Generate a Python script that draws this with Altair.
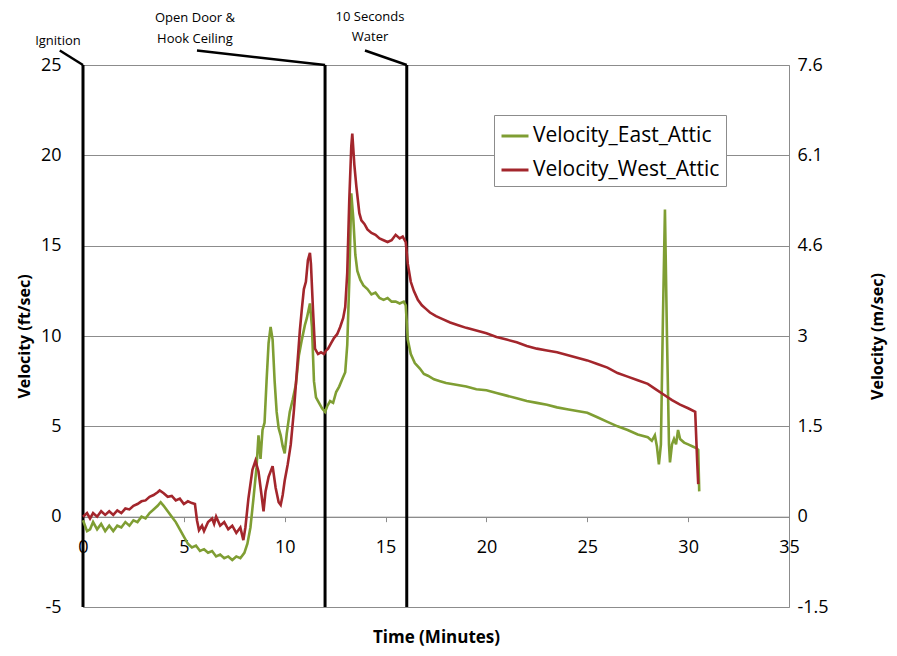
import altair as alt
import pandas as pd

# ---------------- data ----------------
time_east = [0, 0.2, 0.35, 0.5, 0.7, 0.9, 1.1, 1.3, 1.5, 1.7, 1.9, 2.1, 2.3, 2.5, 2.7, 2.9,
             3.1, 3.3, 3.5, 3.7, 3.85, 4.0, 4.2, 4.4, 4.6, 4.8, 5.0, 5.2, 5.4, 5.6, 5.8, 6.0,
             6.2, 6.4, 6.6, 6.8, 7.0, 7.2, 7.4, 7.6, 7.8, 8.0, 8.15, 8.3, 8.45, 8.6, 8.7, 8.8,
             8.9, 9.0, 9.1, 9.2, 9.3, 9.4, 9.5, 9.6, 9.7, 9.8, 9.9, 10.0, 10.1, 10.25, 10.4,
             10.55, 10.7, 10.85, 11.0, 11.1, 11.25, 11.35, 11.45, 11.55, 11.7, 11.85, 12.0,
             12.1, 12.25, 12.4, 12.55, 12.7, 12.85, 13.0, 13.1, 13.2, 13.3, 13.4, 13.5, 13.6,
             13.75, 13.9, 14.1, 14.3, 14.5, 14.7, 14.9, 15.1, 15.3, 15.5, 15.7, 15.9, 16.0,
             16.1, 16.25, 16.45, 16.7, 16.9, 17.1, 17.4, 17.7, 18.0, 18.5, 19.0, 19.5, 20.0,
             20.5, 21.0, 21.5, 22.0, 22.5, 23.0, 23.5, 24.0, 24.5, 25.0, 25.5, 26.0, 26.5,
             27.0, 27.5, 28.0, 28.2, 28.35, 28.45, 28.55, 28.65, 28.75, 28.85, 28.95, 29.05,
             29.1, 29.2, 29.3, 29.4, 29.5, 29.6, 29.8, 30.0, 30.2, 30.4, 30.5, 30.55]
vel_east = [-0.2, -0.8, -0.7, -0.3, -0.7, -0.4, -0.8, -0.5, -0.8, -0.5, -0.6, -0.3, -0.5, -0.2,
            -0.3, 0.0, -0.1, 0.2, 0.4, 0.6, 0.8, 0.6, 0.3, 0.0, -0.3, -0.7, -1.1, -1.5, -1.7,
            -1.6, -1.9, -1.8, -2.0, -1.9, -2.2, -2.1, -2.3, -2.2, -2.4, -2.2, -2.3, -2.0, -1.5,
            -0.6, 1.0, 2.7, 4.5, 3.2, 4.8, 5.2, 7.5, 9.6, 10.5, 9.8, 7.5, 5.8, 4.9, 4.5, 3.9,
            3.5, 4.6, 5.8, 6.5, 7.3, 8.9, 9.8, 10.6, 11.0, 11.8, 10.5, 7.5, 6.6, 6.3, 6.0, 5.8,
            6.1, 6.4, 6.3, 6.9, 7.2, 7.6, 8.0, 9.5, 13.0, 17.9, 16.5, 14.5, 13.6, 13.1, 12.8,
            12.6, 12.3, 12.4, 12.1, 12.0, 12.1, 11.9, 11.9, 11.8, 11.9, 11.7, 9.8, 9.0, 8.5,
            8.2, 7.9, 7.8, 7.6, 7.5, 7.4, 7.3, 7.2, 7.05, 7.0, 6.85, 6.7, 6.55, 6.4, 6.3, 6.2,
            6.05, 5.95, 5.85, 5.75, 5.5, 5.25, 5.0, 4.8, 4.55, 4.4, 4.2, 4.5, 3.9, 2.9, 4.0,
            11.0, 17.0, 10.0, 4.0, 3.0, 4.0, 4.3, 4.0, 4.8, 4.3, 4.1, 4.0, 3.9, 3.8, 3.7, 1.4]

time_west = [0, 0.2, 0.35, 0.5, 0.7, 0.9, 1.1, 1.3, 1.5, 1.7, 1.9, 2.1, 2.3, 2.5, 2.7, 2.9,
             3.1, 3.3, 3.5, 3.7, 3.8, 4.0, 4.2, 4.4, 4.6, 4.8, 5.0, 5.2, 5.4, 5.55, 5.65, 5.75,
             5.9, 6.0, 6.2, 6.4, 6.5, 6.6, 6.8, 7.0, 7.2, 7.4, 7.6, 7.8, 7.95, 8.05, 8.2, 8.4,
             8.55, 8.7, 8.85, 8.95, 9.05, 9.2, 9.4, 9.55, 9.7, 9.8, 9.9, 10.0, 10.15, 10.3,
             10.45, 10.6, 10.75, 10.85, 10.95, 11.05, 11.15, 11.25, 11.3, 11.4, 11.5, 11.65,
             11.8, 11.95, 12.05, 12.15, 12.3, 12.45, 12.6, 12.75, 12.9, 13.0, 13.1, 13.2, 13.3,
             13.35, 13.45, 13.55, 13.7, 13.8, 13.95, 14.1, 14.3, 14.5, 14.7, 14.9, 15.1, 15.3,
             15.5, 15.7, 15.85, 16.0, 16.1, 16.25, 16.4, 16.6, 16.8, 17.0, 17.2, 17.5, 17.8,
             18.2, 18.6, 19.0, 19.5, 20.0, 20.5, 21.0, 21.5, 22.0, 22.5, 23.0, 23.5, 24.0, 24.5,
             25.0, 25.5, 26.0, 26.5, 27.0, 27.5, 28.0, 28.4, 28.8, 29.2, 29.6, 30.0, 30.35,
             30.45, 30.5]
vel_west = [0.0, 0.2, -0.1, 0.2, 0.0, 0.3, 0.1, 0.3, 0.1, 0.35, 0.2, 0.45, 0.4, 0.6, 0.7,
            0.85, 0.9, 1.1, 1.2, 1.35, 1.45, 1.3, 1.1, 1.15, 0.9, 1.0, 0.7, 0.85, 0.75, 0.7,
            -0.2, -0.75, -0.5, -0.8, -0.3, -0.1, -0.4, 0.0, -0.5, -0.3, -0.7, -0.5, -0.9, -0.6,
            -1.3, -0.6, 1.0, 2.6, 3.1, 2.5, 1.2, 0.3, 1.4, 2.2, 2.8, 1.6, 0.8, 0.65, 1.2, 2.0,
            2.9, 4.0, 5.8, 8.0, 10.3, 11.5, 12.6, 13.0, 14.2, 14.6, 14.0, 11.5, 9.3, 9.0, 9.1,
            9.0, 9.2, 9.3, 9.6, 9.9, 10.1, 10.5, 11.0, 11.6, 13.5, 17.5, 20.5, 21.2, 19.5,
            18.3, 16.8, 16.4, 16.2, 15.9, 15.7, 15.6, 15.4, 15.3, 15.2, 15.3, 15.6, 15.4, 15.5,
            15.2, 14.0, 13.0, 12.5, 12.0, 11.7, 11.5, 11.3, 11.1, 10.95, 10.75, 10.6, 10.45,
            10.3, 10.15, 9.95, 9.8, 9.65, 9.45, 9.3, 9.2, 9.1, 8.95, 8.8, 8.65, 8.45, 8.25,
            7.95, 7.75, 7.55, 7.35, 7.05, 6.75, 6.45, 6.2, 6.0, 5.8, 3.0, 1.8]

series_names = ["Velocity_East_Attic", "Velocity_West_Attic"]
series_colors = ["#7F9E33", "#A3262C"]

event_times = [0, 12, 16.05]
callout_times = [-1.15, 5.65, 13.98]
callout_level = 25.8
label_lines = ["Ignition", "Open Door &", "Hook Ceiling", "10 Seconds", "Water"]
label_times = [-1.24, 5.55, 5.55, 14.23, 14.23]
label_levels = [26.35, 27.62, 26.46, 27.67, 26.57]

x_ticks = [0, 5, 10, 15, 20, 25, 30, 35]
ft_ticks = [-5, 0, 5, 10, 15, 20, 25]
ms_labels = ["-1.5", "0", "1.5", "3", "4.6", "6.1", "7.6"]

# ---------------- build tables ----------------
GRID = "#8c8c8c"
FONT = "Open Sans"

lines_df = pd.concat([
    pd.DataFrame({"series": series_names[0], "time": time_east, "velocity": vel_east, "order": range(len(time_east))}),
    pd.DataFrame({"series": series_names[1], "time": time_west, "velocity": vel_west, "order": range(len(time_west))}),
])
events_df = pd.DataFrame({"t": event_times, "lo": min(ft_ticks), "hi": max(ft_ticks),
                          "ct": callout_times, "cl": callout_level})
labels_df = pd.DataFrame({"text": label_lines, "t": label_times, "v": label_levels})

x_scale = alt.Scale(domain=[min(x_ticks), max(x_ticks)], nice=False, zero=False)
y_scale = alt.Scale(domain=[min(ft_ticks), max(ft_ticks)], nice=False, zero=False)

x_axis = alt.Axis(values=x_ticks, title="Time (Minutes)", offset=-90.33, grid=False,
                  domainColor=GRID, tickColor=GRID, tickSize=5, labelPadding=17,
                  labelFlush=False, labelFontSize=18, titleFontSize=17,
                  titleFontWeight="bold", titlePadding=73,
                  labelExpr="'' + datum.value")
y_axis = alt.Axis(values=ft_ticks, title="Velocity (ft/sec)", grid=True, gridColor=GRID,
                  gridOpacity=1, domain=False, ticks=False, labelPadding=22,
                  labelFontSize=18, titleFontSize=16, titleFontWeight="bold",
                  titlePadding=8, labelExpr="'' + datum.value")

lines = alt.Chart(lines_df).mark_line(strokeWidth=2.6, clip=False).encode(
    x=alt.X("time:Q", scale=x_scale, axis=x_axis),
    y=alt.Y("velocity:Q", scale=y_scale, axis=y_axis),
    color=alt.Color("series:N", scale=alt.Scale(domain=series_names, range=series_colors),
                    legend=alt.Legend(title=None, orient="none", legendX=411, legendY=50,
                                      symbolType="stroke", symbolSize=729, symbolStrokeWidth=3,
                                      labelFontSize=21, labelFont=FONT, padding=6, rowPadding=9,
                                      strokeColor=GRID, fillColor="white", labelOffset=3,
                                      labelLimit=400)),
    order="order:Q",
)

vrules = alt.Chart(events_df).mark_rule(color="black", strokeWidth=3, clip=False).encode(
    x=alt.X("t:Q", scale=x_scale, axis=x_axis),
    y=alt.Y("lo:Q", scale=y_scale, axis=y_axis),
    y2="hi:Q",
)

callouts = alt.Chart(events_df).mark_rule(color="black", strokeWidth=2.5, clip=False).encode(
    x=alt.X("ct:Q", scale=x_scale, axis=x_axis),
    x2="t:Q",
    y=alt.Y("cl:Q", scale=y_scale, axis=y_axis),
    y2="hi:Q",
)

texts = alt.Chart(labels_df).mark_text(font=FONT, fontSize=13, color="black", align="center",
                                       baseline="middle", clip=False).encode(
    x=alt.X("t:Q", scale=x_scale, axis=x_axis),
    y=alt.Y("v:Q", scale=y_scale, axis=y_axis),
    text="text:N",
)

right_expr = " : ".join(
    f"datum.value == {v} ? '{lab}'" for v, lab in zip(ft_ticks[:-1], ms_labels[:-1])
) + f" : '{ms_labels[-1]}'"

right = alt.Chart(pd.DataFrame({"v": ft_ticks})).mark_rule(opacity=0).encode(
    y=alt.Y("v:Q", scale=y_scale,
            axis=alt.Axis(orient="right", values=ft_ticks, labelExpr=right_expr,
                          title="Velocity (m/sec)", titleAngle=270, grid=False, domain=False,
                          ticks=False, labelPadding=8, labelFontSize=18, titleFontSize=16,
                          titleFontWeight="bold", titlePadding=57)),
)

inner = alt.layer(vrules, callouts, texts, lines)

chart = alt.layer(inner, right).resolve_scale(y="independent").properties(
    width=706, height=542,
    padding={"left": 75, "top": 57, "right": 100, "bottom": 41},
    autosize=alt.AutoSizeParams(type="none"),
).configure_view(stroke=GRID, strokeWidth=1).configure_axis(
    labelFont=FONT, titleFont=FONT, labelColor="black", titleColor="black"
)

chart.save("out.html", embed_options={"renderer": "svg", "actions": False})
